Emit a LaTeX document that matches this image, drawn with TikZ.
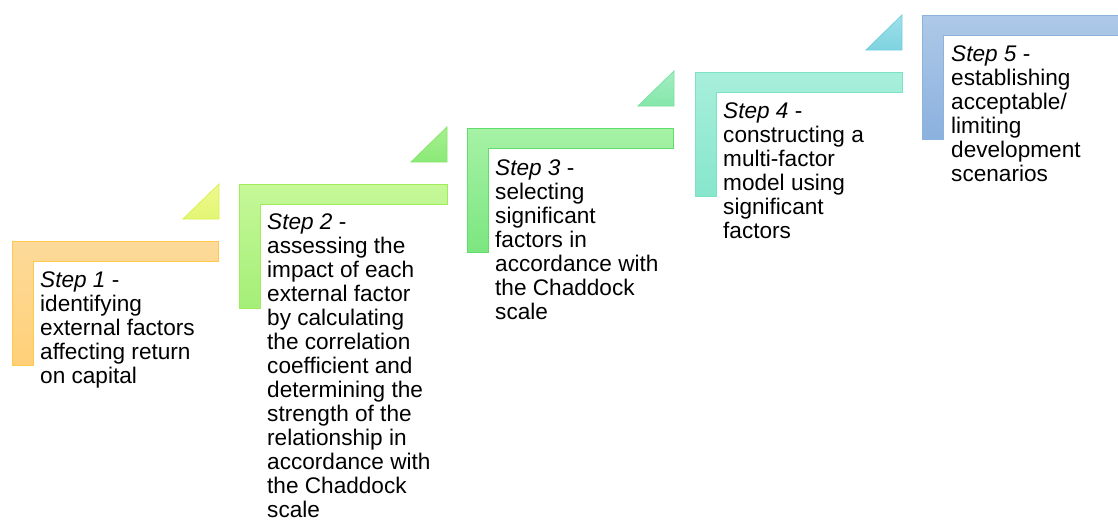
\documentclass[tikz,border=0pt]{standalone}
\usepackage{fontspec}
\setmainfont{Liberation Sans}
\definecolor{oT}{HTML}{FDDA9A}\definecolor{oB}{HTML}{FFD078}\definecolor{oD}{HTML}{FFC94D}
\definecolor{yT}{HTML}{EEF98E}\definecolor{yB}{HTML}{E2F674}\definecolor{yD}{HTML}{DDF24E}
\definecolor{gT}{HTML}{C6F898}\definecolor{gB}{HTML}{A4EF78}\definecolor{gD}{HTML}{A0EC5C}
\definecolor{hT}{HTML}{A8F08E}\definecolor{hB}{HTML}{8AE978}\definecolor{hD}{HTML}{86E66C}
\definecolor{mT}{HTML}{A6F2A6}\definecolor{mB}{HTML}{7CE680}\definecolor{mD}{HTML}{5EDD6A}
\definecolor{nT}{HTML}{A4EEC2}\definecolor{nB}{HTML}{84E6AA}\definecolor{nD}{HTML}{7AE2A2}
\definecolor{tT}{HTML}{A8EFDB}\definecolor{tB}{HTML}{86E6CC}\definecolor{tD}{HTML}{7CE2C6}
\definecolor{cT}{HTML}{9EE0EA}\definecolor{cB}{HTML}{7ED3E0}\definecolor{cD}{HTML}{76CFDC}
\definecolor{bT}{HTML}{AEC9E8}\definecolor{bB}{HTML}{8BB1DE}\definecolor{bD}{HTML}{8FB2DC}
\tikzset{
  txt/.style={anchor=base west,inner sep=0pt,align=left,font=\fontsize{22.6}{24}\selectfont,text=black},
  edge/.style={line width=0.8pt}
}
% #1 X, #2 Y, #3 R, #4 top, #5 bottom, #6 border
\newcommand\drawstepL[6]{%
  \path[edge,draw=#6,top color=#4,bottom color=#5]
    (#1,#2) -- (#3,#2) -- (#3,#2+20.5) -- (#1+21,#2+20.5) -- (#1+21,#2+124) -- (#1,#2+124) -- cycle;}
% #1 R, #2 Y(of L below), #3 top, #4 bottom, #5 border
\newcommand\drawsteptri[5]{%
  \path[edge,draw=#5,top color=#3,bottom color=#4]
    (#1-36,#2-22) -- (#1,#2-57) -- (#1,#2-22) -- cycle;}
\begin{document}
\begin{tikzpicture}[x=1pt,y=-1pt]
\useasboundingbox[fill=white] (0,0) rectangle (1118,520);
% step 1 (anchor = baseline of last line)
\drawsteptri{219}{241}{yT}{yB}{yD}
\drawstepL{12}{241}{218}{oT}{oB}{oD}
\node[txt] (s1) at (40,383) {\textit{Step 1} -\\identifying\\external factors\\affecting return\\on capital};
% step 2
\drawsteptri{447}{184}{hT}{hB}{hD}
\drawstepL{239}{184}{447}{gT}{gB}{gD}
\node[txt] (s2) at (267,517.5) {\textit{Step 2} -\\assessing the\\impact of each\\external factor\\by calculating\\the correlation\\coefficient and\\determining the\\strength of the\\relationship in\\accordance with\\the Chaddock\\scale};
% step 3
\drawsteptri{674}{128}{nT}{nB}{nD}
\drawstepL{467}{128}{673}{mT}{mB}{mD}
\node[txt] (s3) at (495,319) {\textit{Step 3} -\\selecting\\significant\\factors in\\accordance with\\the Chaddock\\scale};
% step 4
\drawsteptri{902}{72}{cT}{cB}{cD}
\drawstepL{695}{72}{902}{tT}{tB}{tD}
\node[txt] (s4) at (723,238) {\textit{Step 4} -\\constructing a\\multi-factor\\model using\\significant\\factors};
% step 5
\drawstepL{922}{15}{1119}{bT}{bB}{bD}
\node[txt] (s5) at (951,181) {\textit{Step 5} -\\establishing\\acceptable/\\limiting\\development\\scenarios};
\end{tikzpicture}
\end{document}
